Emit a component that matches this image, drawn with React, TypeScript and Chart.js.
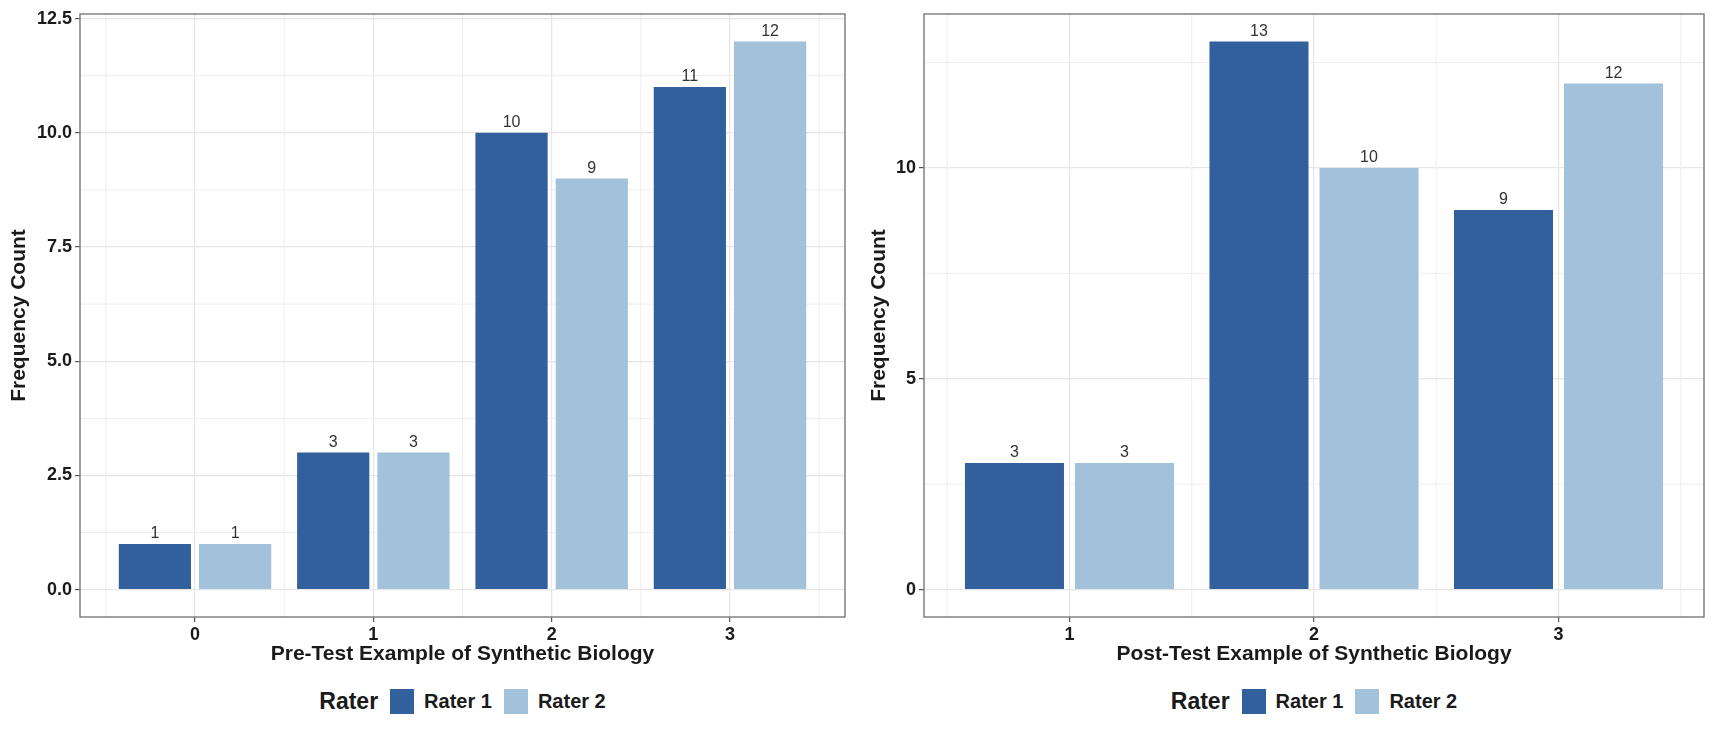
import { Fragment, useEffect, useRef } from 'react';
import { Chart, registerables } from 'chart.js';

Chart.register(...registerables);

const FONT = "'Liberation Sans', Arial, Helvetica, sans-serif";
const TEXT = '#1a1a1a';
const raters = ['Rater 1', 'Rater 2'];
const raterColors = ['#31609d', '#a1c2da'];

// pre-test panel
const preScores = [0, 1, 2, 3];
const preRater1 = [1, 3, 10, 11];
const preRater2 = [1, 3, 9, 12];
const preYTicks = [0, 2.5, 5, 7.5, 10, 12.5];
const preYMinor = [1.25, 3.75, 6.25, 8.75, 11.25];
const preXMinor = [-0.5, 0.5, 1.5, 2.5, 3.5];

// post-test panel
const postScores = [1, 2, 3];
const postRater1 = [3, 13, 9];
const postRater2 = [3, 10, 12];
const postYTicks = [0, 5, 10];
const postYMinor = [2.5, 7.5, 12.5];
const postXMinor = [0.5, 1.5, 2.5, 3.5];

const CANVAS_H = 680;

const frame = {
  id: 'frame',
  afterDraw(chart: any) {
    const { ctx, chartArea: a } = chart;
    ctx.save();
    ctx.strokeStyle = '#7a7a7a';
    ctx.lineWidth = 1.4;
    ctx.strokeRect(a.left, a.top, a.right - a.left, a.bottom - a.top);
    ctx.restore();
  },
};

const minorGrid = {
  id: 'minorGrid',
  beforeDatasetsDraw(chart: any, _args: any, opts: any) {
    const { ctx, chartArea: a, scales } = chart;
    ctx.save();
    ctx.strokeStyle = '#eeeeee';
    ctx.lineWidth = 1;
    ctx.beginPath();
    (opts.x || []).forEach((v: number) => {
      const px = scales.x.getPixelForValue(v);
      ctx.moveTo(px, a.top);
      ctx.lineTo(px, a.bottom);
    });
    (opts.y || []).forEach((v: number) => {
      const py = scales.y.getPixelForValue(v);
      ctx.moveTo(a.left, py);
      ctx.lineTo(a.right, py);
    });
    ctx.stroke();
    ctx.restore();
  },
};

const barLabels = {
  id: 'barLabels',
  afterDatasetsDraw(chart: any) {
    const { ctx } = chart;
    ctx.save();
    ctx.font = `16px ${FONT}`;
    ctx.fillStyle = '#333333';
    ctx.textAlign = 'center';
    ctx.textBaseline = 'bottom';
    chart.data.datasets.forEach((ds: any, i: number) => {
      chart.getDatasetMeta(i).data.forEach((el: any, j: number) => {
        ctx.fillText(String(ds.data[j].y), el.x, el.y - 2);
      });
    });
    ctx.restore();
  },
};

function Panel({ left, width, padRight, yAxisWidth, yTitlePad, scores, r1, r2, xMin, xMax, xMinor, yMin, yMax, yTicks, yMinor, fmt, title }) {
  const canvasRef = useRef<HTMLCanvasElement | null>(null);

  useEffect(() => {
    const ctx = canvasRef.current?.getContext('2d');
    if (!ctx) return;
    const chart = new Chart(ctx, {
      type: 'bar',
      data: {
        datasets: [
          { label: raters[0], data: scores.map((s, i) => ({ x: s, y: r1[i] })), backgroundColor: raterColors[0] },
          { label: raters[1], data: scores.map((s, i) => ({ x: s, y: r2[i] })), backgroundColor: raterColors[1] },
        ],
      },
      options: {
        responsive: false,
        animation: false,
        categoryPercentage: 0.9,
        barPercentage: 0.9,
        layout: { padding: { top: 14, right: padRight, left: 0, bottom: 0 } },
        plugins: {
          legend: { display: false },
          tooltip: { enabled: false },
          minorGrid: { x: xMinor, y: yMinor },
        },
        scales: {
          x: {
            type: 'linear',
            min: xMin,
            max: xMax,
            offset: false,
            afterBuildTicks: (s: any) => { s.ticks = scores.map((v) => ({ value: v })); },
            afterFit: (s: any) => { s.height = CANVAS_H - 617; },
            ticks: {
              autoSkip: false,
              maxRotation: 0,
              padding: 2,
              color: TEXT,
              font: { family: FONT, size: 18, weight: 'bold' },
              callback: (v: any) => String(v),
            },
            grid: { offset: false, color: '#e6e6e6', lineWidth: 1.2, tickColor: '#555555', tickLength: 5, tickWidth: 1.2 },
            border: { display: false },
            title: {
              display: true,
              text: title,
              color: TEXT,
              font: { family: FONT, size: 21, weight: 'bold' },
              padding: { top: 0, bottom: 13 },
            },
          },
          y: {
            type: 'linear',
            min: yMin,
            max: yMax,
            afterBuildTicks: (s: any) => { s.ticks = yTicks.map((v) => ({ value: v })); },
            afterFit: (s: any) => { s.width = yAxisWidth; },
            ticks: {
              autoSkip: false,
              padding: 3,
              color: TEXT,
              font: { family: FONT, size: 18, weight: 'bold' },
              callback: (v: any) => fmt(v),
            },
            grid: { color: '#e6e6e6', lineWidth: 1.2, tickColor: '#555555', tickLength: 5, tickWidth: 1.2 },
            border: { display: false },
            title: {
              display: true,
              text: 'Frequency Count',
              color: TEXT,
              font: { family: FONT, size: 21, weight: 'bold' },
              padding: { top: yTitlePad, bottom: 0 },
            },
          },
        },
      },
      plugins: [minorGrid, barLabels, frame],
    } as any);
    return () => chart.destroy();
  }, []);

  return (
    <canvas
      ref={canvasRef}
      width={width}
      height={CANVAS_H}
      style={{ position: 'absolute', left, top: 0, width, height: CANVAS_H, display: 'block' }}
    />
  );
}

function Legend({ left, width }) {
  return (
    <div
      style={{
        position: 'absolute', left, top: 689, width, height: 24,
        display: 'flex', justifyContent: 'center', alignItems: 'center',
        fontFamily: FONT, fontWeight: 'bold', color: TEXT,
      }}
    >
      <span style={{ fontSize: 23, marginRight: 12 }}>Rater</span>
      {raters.map((r, i) => (
        <Fragment key={r}>
          <span style={{ width: 24, height: 25, background: raterColors[i], marginRight: 10 }} />
          <span style={{ fontSize: 20, marginRight: i === 0 ? 12 : 0 }}>{r}</span>
        </Fragment>
      ))}
    </div>
  );
}

export default function App() {
  return (
    <div style={{ position: 'absolute', left: 0, top: 0, width: 1712, height: 737, background: '#fff', overflow: 'hidden' }}>
      <Panel
        left={0} width={848} padRight={3} yAxisWidth={80} yTitlePad={7}
        scores={preScores} r1={preRater1} r2={preRater2}
        xMin={-0.645} xMax={3.645} xMinor={preXMinor}
        yMin={-0.6} yMax={12.6} yTicks={preYTicks} yMinor={preYMinor}
        fmt={(v: number) => v.toFixed(1)}
        title="Pre-Test Example of Synthetic Biology"
      />
      <Legend left={80} width={765} />
      <Panel
        left={848} width={864} padRight={8} yAxisWidth={76} yTitlePad={19}
        scores={postScores} r1={postRater1} r2={postRater2}
        xMin={0.405} xMax={3.595} xMinor={postXMinor}
        yMin={-0.65} yMax={13.65} yTicks={postYTicks} yMinor={postYMinor}
        fmt={(v: number) => String(v)}
        title="Post-Test Example of Synthetic Biology"
      />
      <Legend left={924} width={780} />
    </div>
  );
}
